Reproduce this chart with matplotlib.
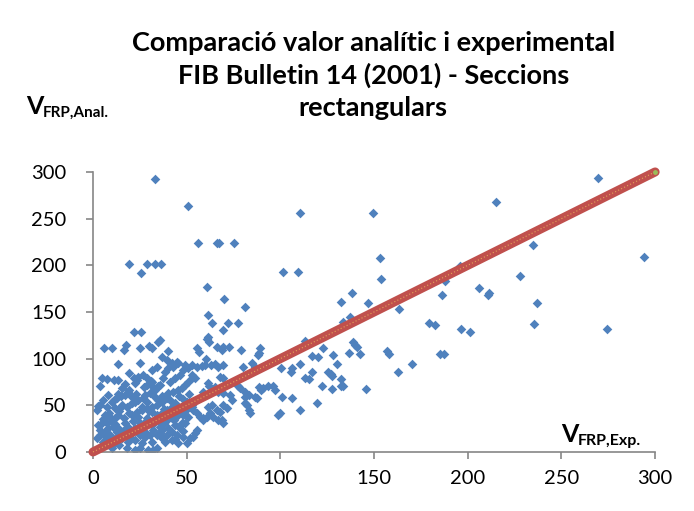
import matplotlib.pyplot as plt

plt.rcParams['font.family'] = ['Lato', 'DejaVu Sans']

# sparse / upper points (V_exp, V_anal)
x_sparse = [33.1, 50.6, 56.2, 66, 67.3, 75.3, 19.2, 25.6, 28.7, 33.1, 36.3, 60.7, 69.8, 81.2,
            110.3, 149.5, 152.9, 101.3, 109.5, 153.9, 138.3, 132.4, 146.6, 163.4, 186.5, 187.6, 196.1, 205.9,
            215.3, 269.5, 234.9, 294.3, 228, 211, 211.5, 236.9,
            137.4, 133.3, 113.2, 179.4, 182.4, 196.5, 201.3, 138.5, 139.9, 140.8, 123, 136.8, 142.6, 157.1,
            158.2, 117.1, 120.3, 128.3, 110.5, 130.4, 185.3, 187.4, 116.9, 125.6, 126.9, 127.8, 113.2, 115.5,
            132.6, 163, 170.5, 122.4, 127.4, 132.4, 133.3, 145.9, 119.4, 110.5, 235.1, 274.3,
            61.2, 63.7, 72.2, 77.2, 69.6, 61.2, 21.9, 25.6, 35.8]
y_sparse = [292.6, 264, 224, 224, 224, 224, 201.8, 191.8, 201.8, 201.8, 201.8, 176.8, 163.6, 155.7,
            255.7, 255.7, 207.5, 192.9, 192.9, 185, 170.4, 160.7, 159.3, 153.2, 168.2, 183.6, 199.7, 175.7,
            268.2, 293.2, 222.2, 209.3, 188.6, 168, 170.5, 159.3,
            144.7, 139, 119.3, 137.9, 135.7, 131.8, 128.2, 117.6, 114.6, 112.9, 111.4, 106.4, 105, 108.6,
            105, 103.2, 101.4, 103.6, 94.3, 94.3, 104.7, 104.7, 85.4, 86.1, 83.6, 81.4, 79, 78.2,
            78.6, 86.1, 94.3, 70.4, 67.9, 70.4, 70.4, 67.9, 52.9, 45, 137.5, 131.8,
            146.8, 138.6, 138.6, 138.6, 130.7, 122.9, 128.9, 128.9, 120]

# dense cluster, x < 52
x_left = [34.9, 6, 10.3, 17.4, 16.7, 25.1, 30.1, 31.3, 39.9, 13.5, 19.4, 4.6, 7.5, 11.4, 13.5, 3.7, 22,
          23.3, 22.4, 17.1, 13.2, 2.8, 21, 25.3, 30.8, 34.9,
          6.4, 9.1, 4.6, 2.8, 7.3, 10, 11.7, 13.5, 14.4, 15.3, 18, 20.6, 22.4, 24.2, 26.9, 27.8, 30.4,
          33.1, 34.9, 36.7, 39.3, 40.2, 42.9, 45.6, 47.3, 49.1, 50.9, 52.7, 38.4, 40.2, 42.9, 45.6, 49.1,
          50.9, 37.5, 35.8, 32.2, 31.3, 28.6,
          6.4, 9.1, 12.6, 15.3, 17.1, 19.8, 22.4, 25.1, 27.8, 30.4, 31.3, 34, 36.7, 39.3, 42, 44.7, 46.4,
          48.2, 50, 51.8, 18, 22.4, 25.1, 29.5, 32.2, 34,
          43.8, 41.1, 46.4, 48.2, 36.7, 39.3, 42.3, 44.7, 31.3, 34, 26.9, 28.6, 24.2,
          8.2, 5.5, 3.7, 2, 10, 11.7, 7.3, 17.1, 18.9, 15.3, 12.6, 20.6, 23.3, 26, 28.6, 31.3, 34, 36.7,
          39.3, 42, 44.7, 47.3, 50, 52.7, 42, 39.3, 35.8, 31.3, 27.8, 25.1, 17.1, 18.9, 13.5, 10.9, 3.7,
          2, 8.2, 11.7, 5.5, 18.9, 22.4, 26, 38.4, 42, 45.6, 36.7, 43.8, 49.1, 50.9, 48.2,
          5.5, 8.5, 12, 14, 16.5, 19, 21.5, 24, 26.5, 29, 31.5, 33, 35.5, 38, 40.5, 43, 45.5, 47.5, 49.5,
          11, 15, 19, 23, 27, 29, 33, 37, 41, 44, 46, 48, 51, 26, 30, 34, 38, 42, 24, 28, 32, 36, 40, 44,
          48, 20, 16, 12, 8, 4, 10, 14, 6, 3, 7]
y_left = [118.2, 111.1, 111.1, 114.6, 109.3, 111.1, 113.9, 111.1, 108.2, 94.6, 84.6, 79, 77.9, 77.1,
          77.1, 71, 79.6, 77.1, 73.6, 72.5, 61.8, 49, 58.6, 95, 76.1, 70.7,
          39.6, 37.9, 30.7, 28.9, 30.7, 32.5, 36.1, 39.6, 46.8, 50.4, 48.6, 52.1, 53.9, 55.7, 57.5, 61.1,
          62.9, 59.3, 55.7, 53.9, 57.5, 62.9, 64.6, 66.4, 68.2, 71.8, 75.4, 78.9, 86.1, 89.6, 91.4, 95,
          93.2, 89.6, 78.9, 71.8, 70, 75.4, 71.8,
          21.8, 18.2, 21.8, 14.6, 18.2, 21.8, 25.4, 18.2, 21.8, 18.2, 11.1, 18.2, 14.6, 18.2, 21.8, 18.2,
          25.4, 16.4, 9.3, 14.6, 3.9, 2.1, 3.9, 2.1, 2.1, 3.9,
          78.9, 75.4, 82.5, 87.9, 102, 98.6, 95, 96.8, 87.9, 91.4, 82.5, 78.9, 80.7,
          61.1, 55.7, 50.4, 45, 53.9, 46.8, 48.6, 61.1, 64.6, 68.2, 57.5, 39.6, 43.2, 45, 46.8, 43.2,
          39.6, 41.4, 45, 48.6, 43.2, 48.6, 53.9, 50.4, 36.1, 34.3, 30.7, 28.9, 32.5, 30.7, 30.7, 27.1,
          25.4, 27.1, 18.2, 14.6, 12.9, 9.3, 11.1, 11.1, 12.9, 9.3, 11.1, 12.9, 9.3, 23.6, 28.9, 30.7,
          37.9, 39.6,
          35, 42, 30, 44, 36, 42, 33, 38, 28, 36, 48, 34, 27, 31, 42, 34, 40, 31, 45,
          56, 60, 66, 62, 70, 54, 66, 60, 56, 52, 60, 57, 62, 48, 44, 50, 46, 40, 24, 16, 24, 20, 26, 14,
          22, 16, 22, 14, 26, 24, 4, 8, 8, 4, 16]

# dense cluster, 52 < x < 110
x_mid = [60.7, 61.7, 55.3, 56.8, 66.4, 68.7, 69.6, 72.8, 79, 88.9, 88.4, 87.8, 60.3,
         52.7, 55.3, 58, 59.8, 62.8, 65.1, 66.9, 69.6, 84.7, 86.5, 80.2, 54.4, 52.7, 67.8, 69.6,
         61.6, 62.1, 58.9, 65.1, 66.9, 69.6, 77.6, 78.5, 81.2, 83, 81.2, 86.5, 87.4, 88.8, 89.5, 90.6,
         93.6, 96.3, 97.2, 100.7, 106, 99.8, 98.9, 83, 83.9, 73.1, 74, 81.2, 82.4, 69.6, 71.4,
         52.7, 53.6, 55.3, 57.1, 58.9, 61.6, 63.4, 62.5, 64.2, 66, 67.8, 68.7, 69.6, 66.9,
         54.4, 55.3, 53.6, 58.9, 60.7, 100.1, 105.5, 106.4]
y_mid = [120.7, 118.2, 111, 107.5, 112, 109.3, 112.9, 112.9, 109.3, 111, 105.7, 103.9, 99.3,
         93.2, 91.4, 92.1, 93.2, 93.2, 94.3, 91.4, 93.2, 95, 91.4, 91.4, 78.9, 82.5, 80.7, 78.9,
         73.6, 70.7, 64.6, 69.3, 64.6, 62.9, 70.7, 68.2, 64.6, 61.1, 59.3, 59.3, 57.5, 69.3, 66.4, 68.2,
         70.7, 70.7, 66.4, 59.3, 57.5, 41.4, 39.6, 45, 41.4, 61.1, 55.7, 52.1, 50.4, 50.4, 46.8,
         48.6, 45, 41.4, 37.9, 36.1, 48.6, 50.4, 41.4, 37.9, 45, 43.2, 34.3, 30.7, 34.3,
         20, 23.6, 16.4, 34.3, 37.9, 89.7, 86.1, 89.7]

x_exp = x_sparse + x_left + x_mid
y_anal = y_sparse + y_left + y_mid

# 1:1 reference line
ref_x = [0, 300]
ref_y = [0, 300]

fig = plt.figure(figsize=(6.94, 5.11), dpi=100)
ax = fig.add_axes([0.134, 0.1155, 0.81, 0.548])

ax.scatter(x_exp, y_anal, marker='D', s=24, color='#4F81BD', linewidths=0, zorder=2)
ax.plot(ref_x, ref_y, color='#C0504D', linewidth=6.5, solid_capstyle='round', zorder=3, clip_on=False)
ax.plot(ref_x, ref_y, color='#E3A857', linewidth=0.8, linestyle=(0, (1, 2)), zorder=4, clip_on=False)
ax.plot([ref_x[1]], [ref_y[1]], marker='o', markersize=2.5, color='#9BBB59', zorder=5, clip_on=False)

ax.set_xlim(0, 300)
ax.set_ylim(0, 300)
ax.set_xticks([0, 50, 100, 150, 200, 250, 300])
ax.set_yticks([0, 50, 100, 150, 200, 250, 300])
for side in ['top', 'right']:
    ax.spines[side].set_visible(False)
for side in ['left', 'bottom']:
    ax.spines[side].set_color('#868686')
    ax.spines[side].set_linewidth(1.2)
ax.tick_params(axis='both', colors='#868686', labelcolor='black', labelsize=14.5,
               length=5, width=1.2, direction='out')
ax.tick_params(axis='y', pad=14)
ax.tick_params(axis='x', pad=8)

fig.text(0.538, 0.94,
         'Comparació valor analític i experimental\nFIB Bulletin 14 (2001) - Seccions\nrectangulars',
         ha='center', va='top', fontsize=19.5, fontweight='bold', linespacing=1.38)

# axis labels: big V plus subscript
fig.text(26 / 694, 1 - 114 / 511, 'V', fontsize=18, fontweight='bold', ha='left', va='baseline')
fig.text(43 / 694, 1 - 117 / 511, 'FRP,Anal.', fontsize=11, fontweight='bold', ha='left', va='baseline')
fig.text(561 / 694, 1 - 442 / 511, 'V', fontsize=18, fontweight='bold', ha='left', va='baseline')
fig.text(578 / 694, 1 - 445 / 511, 'FRP,Exp.', fontsize=11.5, fontweight='bold', ha='left', va='baseline')

plt.savefig('out.png', dpi=100)
